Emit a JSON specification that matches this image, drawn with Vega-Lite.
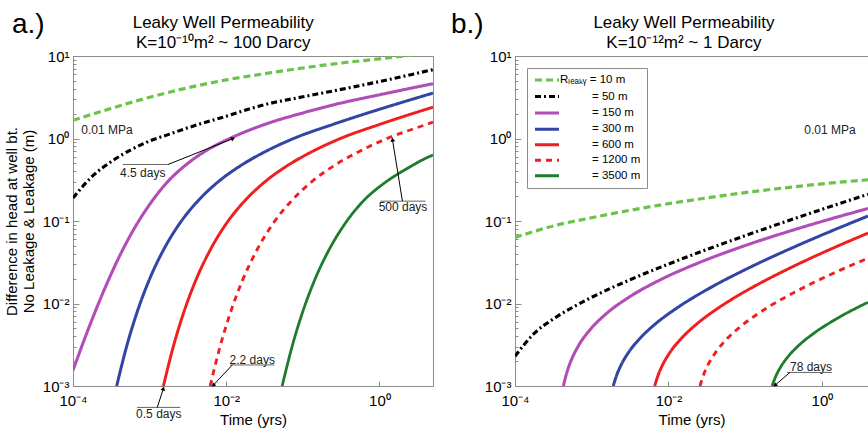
{
  "$schema": "https://vega.github.io/schema/vega-lite/v6.json",
  "bounds": "flush",
  "spacing": 82,
  "padding": {"left": 3, "top": 10, "right": 0, "bottom": 4},
  "config": {
    "font": "Liberation Sans",
    "view": {"stroke": "#8c8c8c", "strokeWidth": 1},
    "axis": {"domainColor": "#8c8c8c", "tickColor": "#8c8c8c", "labelFontSize": 15, "labelColor": "black", "titleFontSize": 15, "titleFontWeight": "normal", "titleColor": "black", "grid": false, "tickSize": -5, "labelPadding": 10, "labelFlush": false, "labelOverlap": false}
  },
  "datasets": {
    "a": [
      {"R":"10 m","t":0.0001,"h":1.66},{"R":"10 m","t":0.0003162,"h":2.32},{"R":"10 m","t":0.001,"h":3.16},{"R":"10 m","t":0.003162,"h":4.12},{"R":"10 m","t":0.01,"h":5.13},{"R":"10 m","t":0.03162,"h":6.10},{"R":"10 m","t":0.1,"h":7.16},{"R":"10 m","t":0.3162,"h":8.22},{"R":"10 m","t":1,"h":9.23},{"R":"10 m","t":3.162,"h":10.47},{"R":"10 m","t":5,"h":10.96},
      {"R":"50 m","t":0.0001,"h":0.19},{"R":"50 m","t":0.0001778,"h":0.347},{"R":"50 m","t":0.0003162,"h":0.525},{"R":"50 m","t":0.0005623,"h":0.724},{"R":"50 m","t":0.001,"h":0.933},{"R":"50 m","t":0.001778,"h":1.122},{"R":"50 m","t":0.003162,"h":1.349},{"R":"50 m","t":0.01,"h":1.862},{"R":"50 m","t":0.03162,"h":2.57},{"R":"50 m","t":0.1,"h":3.2},{"R":"50 m","t":0.3162,"h":3.94},{"R":"50 m","t":1,"h":4.9},{"R":"50 m","t":5,"h":6.84},
      {"R":"150 m","t":0.0001,"h":0.00155},{"R":"150 m","t":0.0001585,"h":0.0049},{"R":"150 m","t":0.0002512,"h":0.01413},{"R":"150 m","t":0.0003981,"h":0.0363},{"R":"150 m","t":0.000631,"h":0.0813},{"R":"150 m","t":0.001,"h":0.1585},{"R":"150 m","t":0.001778,"h":0.309},{"R":"150 m","t":0.003162,"h":0.501},{"R":"150 m","t":0.005623,"h":0.724},{"R":"150 m","t":0.01,"h":0.955},{"R":"150 m","t":0.03162,"h":1.479},{"R":"150 m","t":0.1,"h":2.042},{"R":"150 m","t":0.3162,"h":2.692},{"R":"150 m","t":1,"h":3.388},{"R":"150 m","t":5,"h":4.62},
      {"R":"300 m","t":0.0003715,"h":0.001},{"R":"300 m","t":0.0004898,"h":0.00279},{"R":"300 m","t":0.0006918,"h":0.00802},{"R":"300 m","t":0.0009772,"h":0.01884},{"R":"300 m","t":0.001549,"h":0.04624},{"R":"300 m","t":0.002455,"h":0.0927},{"R":"300 m","t":0.004365,"h":0.179},{"R":"300 m","t":0.007762,"h":0.296},{"R":"300 m","t":0.01549,"h":0.47},{"R":"300 m","t":0.0309,"h":0.678},{"R":"300 m","t":0.0776,"h":1.009},{"R":"300 m","t":0.2455,"h":1.479},{"R":"300 m","t":1.23,"h":2.399},{"R":"300 m","t":5,"h":3.55},
      {"R":"600 m","t":0.001514,"h":0.001},{"R":"600 m","t":0.001995,"h":0.00279},{"R":"600 m","t":0.002818,"h":0.00802},{"R":"600 m","t":0.003981,"h":0.01884},{"R":"600 m","t":0.00631,"h":0.04624},{"R":"600 m","t":0.01,"h":0.0927},{"R":"600 m","t":0.01778,"h":0.179},{"R":"600 m","t":0.03162,"h":0.296},{"R":"600 m","t":0.0631,"h":0.47},{"R":"600 m","t":0.1259,"h":0.678},{"R":"600 m","t":0.3162,"h":1.009},{"R":"600 m","t":1,"h":1.479},{"R":"600 m","t":5,"h":2.399},
      {"R":"1200 m","t":0.006166,"h":0.001},{"R":"1200 m","t":0.008128,"h":0.00279},{"R":"1200 m","t":0.01148,"h":0.00802},{"R":"1200 m","t":0.01622,"h":0.01884},{"R":"1200 m","t":0.0257,"h":0.04624},{"R":"1200 m","t":0.04074,"h":0.0927},{"R":"1200 m","t":0.07244,"h":0.179},{"R":"1200 m","t":0.1288,"h":0.296},{"R":"1200 m","t":0.257,"h":0.47},{"R":"1200 m","t":0.5129,"h":0.678},{"R":"1200 m","t":1.288,"h":1.009},{"R":"1200 m","t":4.074,"h":1.479},{"R":"1200 m","t":5,"h":1.585},
      {"R":"3500 m","t":0.0537,"h":0.001},{"R":"3500 m","t":0.0708,"h":0.00279},{"R":"3500 m","t":0.1,"h":0.00802},{"R":"3500 m","t":0.1413,"h":0.01884},{"R":"3500 m","t":0.2239,"h":0.04624},{"R":"3500 m","t":0.3548,"h":0.0927},{"R":"3500 m","t":0.631,"h":0.179},{"R":"3500 m","t":1.122,"h":0.282},{"R":"3500 m","t":2.239,"h":0.427},{"R":"3500 m","t":4.467,"h":0.603},{"R":"3500 m","t":5,"h":0.631}
    ],
    "b": [
      {"R":"10 m","t":0.0001,"h":0.0631},{"R":"10 m","t":0.0003162,"h":0.0871},{"R":"10 m","t":0.001,"h":0.1096},{"R":"10 m","t":0.003162,"h":0.1349},{"R":"10 m","t":0.01,"h":0.1622},{"R":"10 m","t":0.03162,"h":0.1905},{"R":"10 m","t":0.1,"h":0.2213},{"R":"10 m","t":0.3162,"h":0.2512},{"R":"10 m","t":1,"h":0.2818},{"R":"10 m","t":3.981,"h":0.3162},
      {"R":"50 m","t":0.0001,"h":0.002296},{"R":"50 m","t":0.0001778,"h":0.004335},{"R":"50 m","t":0.0003162,"h":0.006501},{"R":"50 m","t":0.0005623,"h":0.008974},{"R":"50 m","t":0.001,"h":0.01189},{"R":"50 m","t":0.003162,"h":0.01941},{"R":"50 m","t":0.01,"h":0.03006},{"R":"50 m","t":0.03162,"h":0.04519},{"R":"50 m","t":0.1,"h":0.06653},{"R":"50 m","t":0.3162,"h":0.09638},{"R":"50 m","t":1,"h":0.1384},{"R":"50 m","t":3.981,"h":0.2109},
      {"R":"150 m","t":0.0004266,"h":0.001},{"R":"150 m","t":0.0004786,"h":0.001505},{"R":"150 m","t":0.000537,"h":0.002023},{"R":"150 m","t":0.0006761,"h":0.003105},{"R":"150 m","t":0.000955,"h":0.004831},{"R":"150 m","t":0.001514,"h":0.0074},{"R":"150 m","t":0.00302,"h":0.01183},{"R":"150 m","t":0.007586,"h":0.0191},{"R":"150 m","t":0.02399,"h":0.03076},{"R":"150 m","t":0.0955,"h":0.04966},{"R":"150 m","t":0.4266,"h":0.07798},{"R":"150 m","t":3.981,"h":0.1419},
      {"R":"300 m","t":0.001905,"h":0.001},{"R":"300 m","t":0.002138,"h":0.001393},{"R":"300 m","t":0.002399,"h":0.001778},{"R":"300 m","t":0.00302,"h":0.002559},{"R":"300 m","t":0.004266,"h":0.003793},{"R":"300 m","t":0.006761,"h":0.005662},{"R":"300 m","t":0.01349,"h":0.009078},{"R":"300 m","t":0.03388,"h":0.01524},{"R":"300 m","t":0.1072,"h":0.02655},{"R":"300 m","t":0.4266,"h":0.04808},{"R":"300 m","t":1.905,"h":0.0869},{"R":"300 m","t":3.981,"h":0.1148},
      {"R":"600 m","t":0.006607,"h":0.001},{"R":"600 m","t":0.007413,"h":0.001393},{"R":"600 m","t":0.008318,"h":0.001778},{"R":"600 m","t":0.01047,"h":0.002559},{"R":"600 m","t":0.01479,"h":0.003793},{"R":"600 m","t":0.02344,"h":0.005662},{"R":"600 m","t":0.04677,"h":0.009078},{"R":"600 m","t":0.1175,"h":0.01524},{"R":"600 m","t":0.3715,"h":0.02655},{"R":"600 m","t":1.479,"h":0.04808},{"R":"600 m","t":3.981,"h":0.07129},
      {"R":"1200 m","t":0.0257,"h":0.001},{"R":"1200 m","t":0.02884,"h":0.001387},{"R":"1200 m","t":0.03236,"h":0.001766},{"R":"1200 m","t":0.04074,"h":0.002523},{"R":"1200 m","t":0.05754,"h":0.003707},{"R":"1200 m","t":0.0912,"h":0.005445},{"R":"1200 m","t":0.182,"h":0.00857},{"R":"1200 m","t":0.4571,"h":0.01396},{"R":"1200 m","t":1.445,"h":0.0235},{"R":"1200 m","t":3.981,"h":0.0354},
      {"R":"3500 m","t":0.2239,"h":0.001},{"R":"3500 m","t":0.2512,"h":0.001324},{"R":"3500 m","t":0.2818,"h":0.00163},{"R":"3500 m","t":0.3548,"h":0.002223},{"R":"3500 m","t":0.5012,"h":0.003119},{"R":"3500 m","t":0.7943,"h":0.004395},{"R":"3500 m","t":1.585,"h":0.006607},{"R":"3500 m","t":3.981,"h":0.01035}
    ]
  },
  "resolve": {
    "scale": {"color": "independent", "strokeDash": "independent", "strokeWidth": "independent"},
    "legend": {"color": "independent", "strokeDash": "independent", "strokeWidth": "independent"}
  },
  "hconcat": [
    {
      "width": 360,
      "height": 330,
      "encoding": {
        "x": {"field": "t", "type": "quantitative", "scale": {"type": "log", "domain": [0.0001, 5]}, "axis": {"title": "Time (yrs)", "values": [0.0001, 0.01, 1], "labelPadding": 12, "labelExpr": "'10' + replace(replace(replace(replace(replace(replace(replace(toString(round(log(datum.value)/LN10)), '-', '⁻'), '0', '⁰'), '1', '¹'), '2', '²'), '3', '³'), '4', '⁴'), '5', '⁵')", "titlePadding": 4}},
        "y": {"field": "h", "type": "quantitative", "scale": {"type": "log", "domain": [0.001, 10]}, "axis": {"title": ["Difference in head at well bt.", "No Leakage & Leakage (m)"], "values": [0.001, 0.002, 0.003, 0.004, 0.005, 0.006, 0.007, 0.008, 0.009, 0.01, 0.02, 0.03, 0.04, 0.05, 0.06, 0.07, 0.08, 0.09, 0.1, 0.2, 0.3, 0.4, 0.5, 0.6, 0.7, 0.8, 0.9, 1, 2, 3, 4, 5, 6, 7, 8, 9, 10], "tickSize": {"condition": {"test": "abs(log(datum.value)/LN10 - round(log(datum.value)/LN10)) < 0.001", "value": -6}, "value": -3}, "labelExpr": "abs(log(datum.value)/LN10 - round(log(datum.value)/LN10)) < 0.001 ? '10' + replace(replace(replace(replace(replace(replace(toString(round(log(datum.value)/LN10)), '-', '⁻'), '0', '⁰'), '1', '¹'), '2', '²'), '3', '³'), '4', '⁴') : ''", "titlePadding": 6}}
      },
      "layer": [
        {"mark": {"type": "rule", "color": "black", "strokeDash": [10, 6], "strokeWidth": 1.2}, "encoding": {"y": {"datum": 1}}},
        {
          "data": {"name": "a"},
          "mark": {"type": "line", "clip": true, "interpolate": "monotone"},
          "encoding": {
            "color": {"field": "R", "type": "nominal", "scale": {"domain": ["10 m","50 m","150 m","300 m","600 m","1200 m","3500 m"], "range": ["#6cc24a","#000000","#b24cb6","#3245a5","#f01e1e","#f01e1e","#1e7d2c"]}, "legend": null},
            "strokeDash": {"field": "R", "type": "nominal", "scale": {"domain": ["10 m","50 m","150 m","300 m","600 m","1200 m","3500 m"], "range": [[7,4],[6,3,2,3],[1,0],[1,0],[1,0],[6,5],[1,0]]}, "legend": null},
            "strokeWidth": {"field": "R", "type": "nominal", "scale": {"domain": ["10 m","50 m","150 m","300 m","600 m","1200 m","3500 m"], "range": [3.2,2.8,3,3,3,3.2,2.6]}, "legend": null}
          }
        },
        {
          "data": {"values": [
            {"label": "Leaky Well Permeability", "t": 0.00914, "h": 21.7},
            {"label": "K=10⁻¹⁰m² ~ 100 Darcy", "t": 0.00914, "h": 12.6}
          ]},
          "mark": {"type": "text", "fontSize": 17, "color": "black", "baseline": "alphabetic", "clip": false},
          "encoding": {"text": {"field": "label"}}
        },
        {
          "data": {"values": [
            {"label": "0.01 MPa", "t": 0.000278, "h": 1.285},
            {"label": "4.5 days", "t": 0.000813, "h": 0.377},
            {"label": "500 days", "t": 2.03, "h": 0.146},
            {"label": "0.5 days", "t": 0.001318, "h": 0.000452},
            {"label": "2.2 days", "t": 0.02188, "h": 0.00209}
          ]},
          "mark": {"type": "text", "fontSize": 12, "color": "#222", "clip": false},
          "encoding": {"text": {"field": "label"}}
        },
        {
          "data": {"values": [{"label": "a.)", "t": 0.00001596, "h": 19.1}]},
          "mark": {"type": "text", "fontSize": 28, "color": "black", "align": "left", "baseline": "alphabetic", "clip": false},
          "encoding": {"text": {"field": "label"}}
        },
        {
          "data": {"values": [
            {"t": 0.000447, "h": 0.484, "t2": 0.001738, "h2": 0.484},
            {"t": 1.03, "h": 0.174, "t2": 3.99, "h2": 0.174},
            {"t": 0.000687, "h": 0.00055, "t2": 0.00251, "h2": 0.00055},
            {"t": 0.01127, "h": 0.0018, "t2": 0.04236, "h2": 0.0018}
          ]},
          "mark": {"type": "rule", "color": "#666", "strokeWidth": 1, "clip": false},
          "encoding": {"x2": {"field": "t2"}, "y2": {"field": "h2"}}
        },
        {
          "data": {"values": [
            {"t": 0.001738, "h": 0.484, "t2": 0.0123, "h2": 1},
            {"t": 1.995, "h": 0.174, "t2": 1.479, "h2": 0.97},
            {"t": 0.001259, "h": 0.00055, "t2": 0.001514, "h2": 0.000933},
            {"t": 0.01202, "h": 0.0018, "t2": 0.00676, "h2": 0.00102}
          ]},
          "mark": {"type": "rule", "color": "black", "strokeWidth": 1, "clip": false},
          "encoding": {"x2": {"field": "t2"}, "y2": {"field": "h2"}}
        },
        {"data": {"values": [{"t": 0.0123, "h": 1}]}, "mark": {"type": "point", "shape": "triangle-up", "filled": true, "color": "black", "size": 22, "angle": 68, "opacity": 1}, "encoding": {}},
        {"data": {"values": [{"t": 1.479, "h": 0.97}]}, "mark": {"type": "point", "shape": "triangle-up", "filled": true, "color": "black", "size": 22, "angle": -9.5, "opacity": 1}, "encoding": {}},
        {"data": {"values": [{"t": 0.001514, "h": 0.000933}]}, "mark": {"type": "point", "shape": "triangle-up", "filled": true, "color": "black", "size": 22, "angle": 17.5, "opacity": 1, "clip": false}, "encoding": {}},
        {"data": {"values": [{"t": 0.00676, "h": 0.00102}]}, "mark": {"type": "point", "shape": "triangle-up", "filled": true, "color": "black", "size": 22, "angle": -136.5, "opacity": 1, "clip": false}, "encoding": {}}
      ]
    },
    {
      "width": 353,
      "height": 330,
      "encoding": {
        "x": {"field": "t", "type": "quantitative", "scale": {"type": "log", "domain": [0.0001, 3.98]}, "axis": {"title": "Time (yrs)", "values": [0.0001, 0.01, 1], "labelPadding": 12, "labelExpr": "'10' + replace(replace(replace(replace(replace(replace(replace(toString(round(log(datum.value)/LN10)), '-', '⁻'), '0', '⁰'), '1', '¹'), '2', '²'), '3', '³'), '4', '⁴'), '5', '⁵')", "titlePadding": 4}},
        "y": {"field": "h", "type": "quantitative", "scale": {"type": "log", "domain": [0.001, 10]}, "axis": {"title": null, "values": [0.001, 0.002, 0.003, 0.004, 0.005, 0.006, 0.007, 0.008, 0.009, 0.01, 0.02, 0.03, 0.04, 0.05, 0.06, 0.07, 0.08, 0.09, 0.1, 0.2, 0.3, 0.4, 0.5, 0.6, 0.7, 0.8, 0.9, 1, 2, 3, 4, 5, 6, 7, 8, 9, 10], "tickSize": {"condition": {"test": "abs(log(datum.value)/LN10 - round(log(datum.value)/LN10)) < 0.001", "value": -6}, "value": -3}, "labelExpr": "abs(log(datum.value)/LN10 - round(log(datum.value)/LN10)) < 0.001 ? '10' + replace(replace(replace(replace(replace(replace(toString(round(log(datum.value)/LN10)), '-', '⁻'), '0', '⁰'), '1', '¹'), '2', '²'), '3', '³'), '4', '⁴') : ''"}}
      },
      "layer": [
        {"mark": {"type": "rule", "color": "black", "strokeDash": [10, 6], "strokeWidth": 1.2}, "encoding": {"y": {"datum": 1}}},
        {
          "data": {"name": "b"},
          "mark": {"type": "line", "clip": true, "interpolate": "monotone"},
          "encoding": {
            "color": {"field": "R", "type": "nominal", "scale": {"domain": ["10 m","50 m","150 m","300 m","600 m","1200 m","3500 m"], "range": ["#6cc24a","#000000","#b24cb6","#3245a5","#f01e1e","#f01e1e","#1e7d2c"]}, "legend": {"orient": "top-left", "offset": 12, "title": null, "symbolType": "M-1,0H5", "symbolSize": 64, "labelOffset": 15, "labelFontSize": 11.5, "strokeColor": "#8c8c8c", "fillColor": "white", "padding": 6, "rowPadding": 2.5, "labelExpr": "datum.label == '10 m' ? 'Rₗₑₐₖᵧ = 10 m' : '= ' + datum.label", "encode": {"labels": {"update": {"dx": {"signal": "datum.value == '10 m' ? 0 : 32"}}}}}},
            "strokeDash": {"field": "R", "type": "nominal", "scale": {"domain": ["10 m","50 m","150 m","300 m","600 m","1200 m","3500 m"], "range": [[7,4],[6,3,2,3],[1,0],[1,0],[1,0],[6,5],[1,0]]}},
            "strokeWidth": {"field": "R", "type": "nominal", "scale": {"domain": ["10 m","50 m","150 m","300 m","600 m","1200 m","3500 m"], "range": [3.2,2.8,3,3,3,3.2,2.6]}}
          }
        },
        {
          "data": {"values": [
            {"label": "Leaky Well Permeability", "t": 0.0159, "h": 21.7},
            {"label": "K=10⁻¹²m² ~ 1 Darcy", "t": 0.0159, "h": 12.6}
          ]},
          "mark": {"type": "text", "fontSize": 17, "color": "black", "baseline": "alphabetic", "clip": false},
          "encoding": {"text": {"field": "label"}}
        },
        {
          "data": {"values": [
            {"label": "0.01 MPa", "t": 1.27, "h": 1.285},
            {"label": "78 days", "t": 0.719, "h": 0.00172}
          ]},
          "mark": {"type": "text", "fontSize": 12, "color": "#222", "clip": false},
          "encoding": {"text": {"field": "label"}}
        },
        {
          "data": {"values": [{"label": "b.)", "t": 0.00001466, "h": 19.1}]},
          "mark": {"type": "text", "fontSize": 28, "color": "black", "align": "left", "baseline": "alphabetic", "clip": false},
          "encoding": {"text": {"field": "label"}}
        },
        {
          "data": {"values": [{"t": 0.35, "h": 0.00146, "t2": 1.35, "h2": 0.00146}]},
          "mark": {"type": "rule", "color": "#666", "strokeWidth": 1},
          "encoding": {"x2": {"field": "t2"}, "y2": {"field": "h2"}}
        },
        {
          "data": {"values": [{"t": 0.383, "h": 0.00146, "t2": 0.244, "h2": 0.00102}]},
          "mark": {"type": "rule", "color": "black", "strokeWidth": 1},
          "encoding": {"x2": {"field": "t2"}, "y2": {"field": "h2"}}
        },
        {"data": {"values": [{"t": 0.244, "h": 0.00102}]}, "mark": {"type": "point", "shape": "triangle-up", "filled": true, "color": "black", "size": 22, "angle": -128.7, "opacity": 1, "clip": false}, "encoding": {}}
      ]
    }
  ]
}
